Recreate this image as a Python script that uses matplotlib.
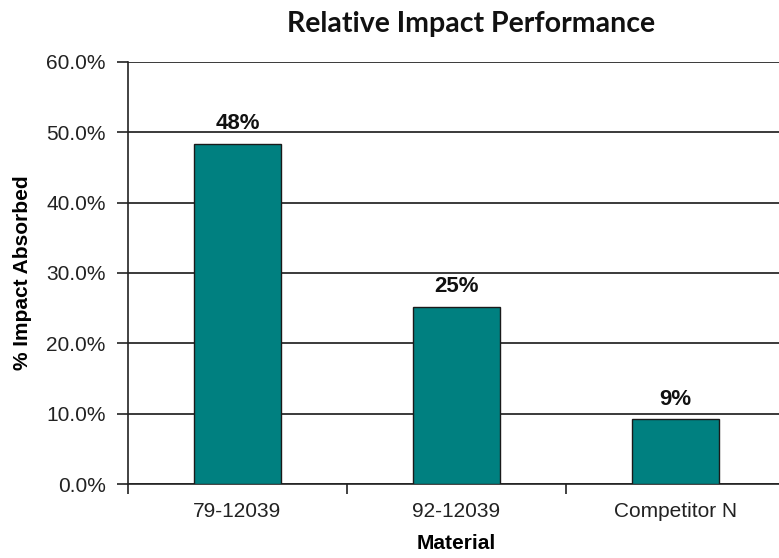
import matplotlib
matplotlib.use("Agg")
import matplotlib.pyplot as plt
from matplotlib.ticker import FuncFormatter

categories = ["79-12039", "92-12039", "Competitor N"]
values = [48.4, 25.2, 9.2]
labels = ["48%", "25%", "9%"]
yticks = [0, 10, 20, 30, 40, 50, 60]

fig = plt.figure(figsize=(7.79, 5.58), dpi=100)
W, H = 779, 558
ax = fig.add_axes([128 / W, 1 - 484 / H, (785 - 128) / W, (484 - 62) / H])

x = list(range(len(categories)))
ax.bar(x, values, width=0.4, color="#008080", edgecolor="#1a1a1a", linewidth=1.0, zorder=3)

ax.set_xlim(-0.5, 2.5)
ax.set_ylim(0, 60)
ax.set_yticks(yticks)
ax.yaxis.set_major_formatter(FuncFormatter(lambda v, p: f"{v:.1f}%"))
ax.grid(axis="y", color="#3a3a3a", linewidth=1.4, zorder=1)

ax.set_xticks([-0.5, 0.5, 1.5, 2.5])
ax.set_xticklabels([])
ax.set_xticks(x, minor=True)
ax.set_xticklabels(categories, minor=True)
ax.tick_params(axis="x", which="minor", length=0, pad=13, labelsize=15, labelcolor="#222222")
ax.tick_params(axis="x", which="major", length=7, width=1.2, color="#222222")
ax.tick_params(axis="y", length=8, width=1.2, pad=8, labelsize=15, labelcolor="#222222", color="#222222")

for s in ["top", "right"]:
    ax.spines[s].set_visible(False)
for s in ["left", "bottom"]:
    ax.spines[s].set_color("#222222")
    ax.spines[s].set_linewidth(1.2)

for xi, v, lab in zip(x, values, labels):
    ax.annotate(lab, (xi, v), xytext=(0, 7), textcoords="offset points",
                ha="center", va="bottom", fontsize=16, fontweight="bold",
                family="Liberation Sans", color="#111111")

for t in ax.get_xticklabels(minor=True) + ax.get_yticklabels():
    t.set_fontfamily("Liberation Sans")

ax.set_ylabel("% Impact Absorbed", fontsize=15, fontweight="bold", family="Liberation Sans", labelpad=10)
ax.set_xlabel("Material", fontsize=15, fontweight="bold", family="Liberation Sans", labelpad=9)

fig.text(471 / W, 1 - 24 / H, "Relative Impact Performance", ha="center", va="center",
         fontsize=20.5, fontweight="bold", family="Lato", color="#111111")

fig.savefig("out.png", dpi=100)
